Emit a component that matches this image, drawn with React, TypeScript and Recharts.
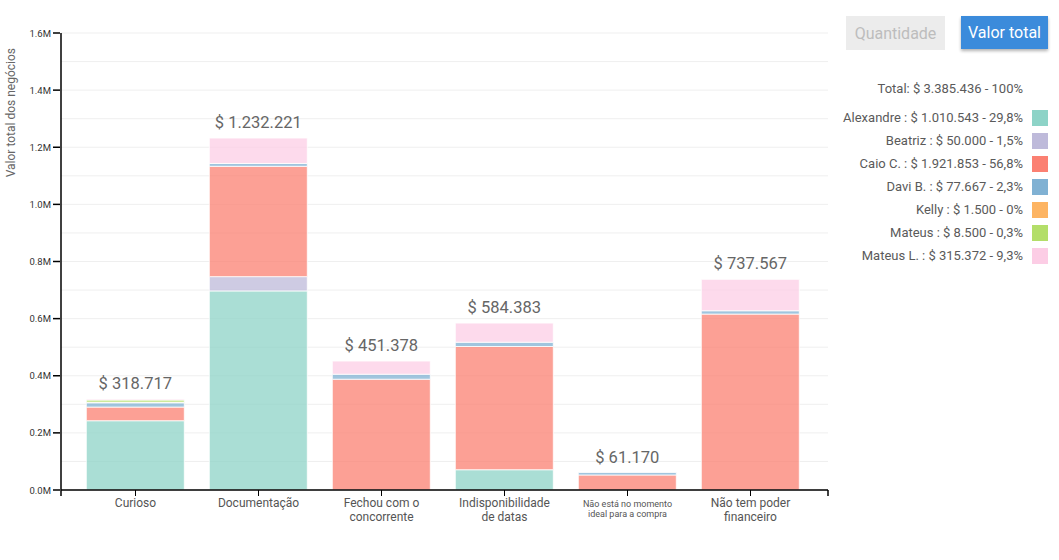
import React from 'react';
import { BarChart, Bar, XAxis, YAxis, CartesianGrid, LabelList } from 'recharts';

const categories = [
  'Curioso',
  'Documentação',
  'Fechou com o concorrente',
  'Indisponibilidade de datas',
  'Não está no momento ideal para a compra',
  'Não tem poder financeiro',
];
const categoryLines = [
  ['Curioso'],
  ['Documentação'],
  ['Fechou com o', 'concorrente'],
  ['Indisponibilidade', 'de datas'],
  ['Não está no momento', 'ideal para a compra'],
  ['Não tem poder', 'financeiro'],
];

const sellers = ['Alexandre', 'Beatriz', 'Caio C.', 'Davi B.', 'Kelly', 'Mateus', 'Mateus L.'];
const alexandre = [242543, 697000, 0, 71000, 0, 0];
const beatriz = [0, 50000, 0, 0, 0, 0];
const caio = [47802, 386221, 387878, 431383, 52603, 615967];
const davi = [15000, 10000, 17500, 15000, 8567, 11600];
const kelly = [1500, 0, 0, 0, 0, 0];
const mateus = [8500, 0, 0, 0, 0, 0];
const mateusL = [3372, 89000, 46000, 67000, 0, 110000];
const sellerTotals = [1010543, 50000, 1921853, 77667, 1500, 8500, 315372];

const yTicks = [0, 100000, 200000, 300000, 400000, 500000, 600000, 700000, 800000, 900000, 1000000, 1100000, 1200000, 1300000, 1400000, 1500000, 1600000];

const colors = ['#8dd3c7', '#bebada', '#fb8072', '#80b1d3', '#fdb462', '#b3de69', '#fccde5'];
const series = [alexandre, beatriz, caio, davi, kelly, mateus, mateusL];
const keys = ['s0', 's1', 's2', 's3', 's4', 's5', 's6'];

const data = categories.map((c, i) => {
  const row: any = { name: c, idx: i };
  let total = 0;
  series.forEach((s, k) => {
    row[keys[k]] = s[i];
    total += s[i];
  });
  row.total = total;
  return row;
});
const grandTotal = data.reduce((a, r) => a + r.total, 0);
// index of the topmost non-zero series in each category
const topSeries = categories.map((_, i) => {
  let t = 0;
  series.forEach((s, k) => {
    if (s[i] > 0) t = k;
  });
  return t;
});

const fmt = (n: number) => String(Math.round(n)).replace(/\B(?=(\d{3})+(?!\d))/g, '.');
const pct = (v: number) => {
  let s = ((v / grandTotal) * 100).toFixed(1);
  if (s.endsWith('.0')) s = s.slice(0, -2);
  return s.replace('.', ',') + '%';
};

const FONT = 'Roboto, "Noto Sans", Arial, sans-serif';
const PAD_L = 13;
const PAD_R = 16;

const XTick = (props: any) => {
  const { x, y, payload, index, width } = props;
  const idx = categories.indexOf(payload.value);
  const lines = categoryLines[idx] || [payload.value];
  const small = payload.value.length > 30;
  const fs = small ? 9 : 12;
  const lh = small ? 10 : 14;
  let ends: any = null;
  if (index === 0 && typeof width === 'number') {
    const band = (width - PAD_L - PAD_R) / categories.length;
    const left = x - PAD_L - band / 2;
    const right = left + width;
    ends = (
      <g>
        <line x1={left} x2={left} y1={y - 8} y2={y - 2} stroke="#000" strokeWidth={1.5} />
        <line x1={right} x2={right} y1={y - 8} y2={y - 2} stroke="#000" strokeWidth={1.5} />
      </g>
    );
  }
  return (
    <g>
      {ends}
      <line x1={x} x2={x} y1={y - 8} y2={y - 2} stroke="#000" strokeWidth={1} />
      {lines.map((l: string, i: number) => (
        <text key={i} x={x} y={y + 9 + i * lh} textAnchor="middle" fontSize={fs} fill="#555" fontFamily={FONT}>
          {l}
        </text>
      ))}
    </g>
  );
};

const YTick = (props: any) => {
  const { x, y, payload } = props;
  const v = payload.value;
  if (Math.round(v / 100000) % 2 !== 0) return null;
  return (
    <g>
      <line x1={x + 1} x2={x + 8} y1={y} y2={y} stroke="#000" strokeWidth={1.5} />
      <text x={x - 1} y={y + 3.5} textAnchor="end" fontSize={9.5} fill="#333" fontFamily={FONT}>
        {(v / 1000000).toFixed(1) + 'M'}
      </text>
    </g>
  );
};

const YLabel = (props: any) => {
  const vb = props.viewBox || { x: 0, y: 33 };
  const x = vb.x + 15;
  const y = vb.y + 15;
  return (
    <text x={x} y={y} transform={`rotate(-90, ${x}, ${y})`} textAnchor="end" fontSize={12} fill="#666" fontFamily={FONT}>
      Valor total dos negócios
    </text>
  );
};

const makeTotalLabel = (seriesIndex: number) => (props: any) => {
  const { x, y, width, value } = props;
  const ci = Number(value);
  if (!(ci >= 0 && ci < data.length)) return null;
  if (topSeries[ci] !== seriesIndex) return null;
  return (
    <text
      x={Number(x) + Number(width) / 2}
      y={Number(y) - 10}
      textAnchor="middle"
      fontSize={16.5}
      fill="#666"
      fontFamily={FONT}
    >
      {'$ ' + fmt(data[ci].total)}
    </text>
  );
};

export default function App() {
  return (
    <div style={{ position: 'absolute', left: 0, top: 0, width: 1059, height: 560, background: '#fff', fontFamily: FONT }}>
      <BarChart
        width={840}
        height={560}
        data={data}
        margin={{ top: 33, right: 12, bottom: 30, left: 0 }}
        barCategoryGap="10%"
      >
        <CartesianGrid vertical={false} stroke="#efefef" strokeWidth={1} />
        <XAxis
          dataKey="name"
          height={40}
          tick={<XTick />}
          tickLine={false}
          interval={0}
          padding={{ left: PAD_L, right: PAD_R }}
          axisLine={{ stroke: '#000', strokeWidth: 1.5 }}
        />
        <YAxis
          width={61}
          domain={[0, 1600000]}
          ticks={yTicks}
          interval={0}
          tick={<YTick />}
          tickLine={false}
          tickSize={7}
          tickMargin={2}
          axisLine={{ stroke: '#000', strokeWidth: 1.5 }}
          label={<YLabel />}
        />
        {keys.map((k, i) => (
          <Bar
            key={k}
            dataKey={k}
            stackId="a"
            fill={colors[i]}
            fillOpacity={0.75}
            stroke="#fff"
            strokeWidth={0.8}
            isAnimationActive={false}
          >
            {topSeries.includes(i) && <LabelList dataKey="idx" content={makeTotalLabel(i)} />}
          </Bar>
        ))}
      </BarChart>

      <div
        style={{
          position: 'absolute', left: 846, top: 16, width: 99, height: 34, background: '#ececec', color: '#bdbdbd',
          fontSize: 16, display: 'flex', alignItems: 'center', justifyContent: 'center',
        }}
      >
        Quantidade
      </div>
      <div
        style={{
          position: 'absolute', left: 961, top: 16, width: 87, height: 33, background: '#3b8bdb', color: '#fff',
          fontSize: 16, display: 'flex', alignItems: 'center', justifyContent: 'center', boxShadow: '0 2px 3px rgba(0,0,0,0.3)',
        }}
      >
        Valor total
      </div>

      <div style={{ position: 'absolute', right: 11, top: 77, width: 260, color: '#5a5a5a', fontSize: 13 }}>
        <div style={{ height: 23, display: 'flex', alignItems: 'center', justifyContent: 'flex-end', paddingRight: 25, marginBottom: 6 }}>
          {'Total: $ ' + fmt(grandTotal) + ' - 100%'}
        </div>
        {sellers.map((s, i) => (
          <div key={s} style={{ height: 23, display: 'flex', alignItems: 'center', justifyContent: 'flex-end' }}>
            <span style={{ whiteSpace: 'nowrap' }}>{s + ' : $ ' + fmt(sellerTotals[i]) + ' - ' + pct(sellerTotals[i])}</span>
            <span style={{ display: 'inline-block', width: 16, height: 16, background: colors[i], marginLeft: 9 }} />
          </div>
        ))}
      </div>
    </div>
  );
}
